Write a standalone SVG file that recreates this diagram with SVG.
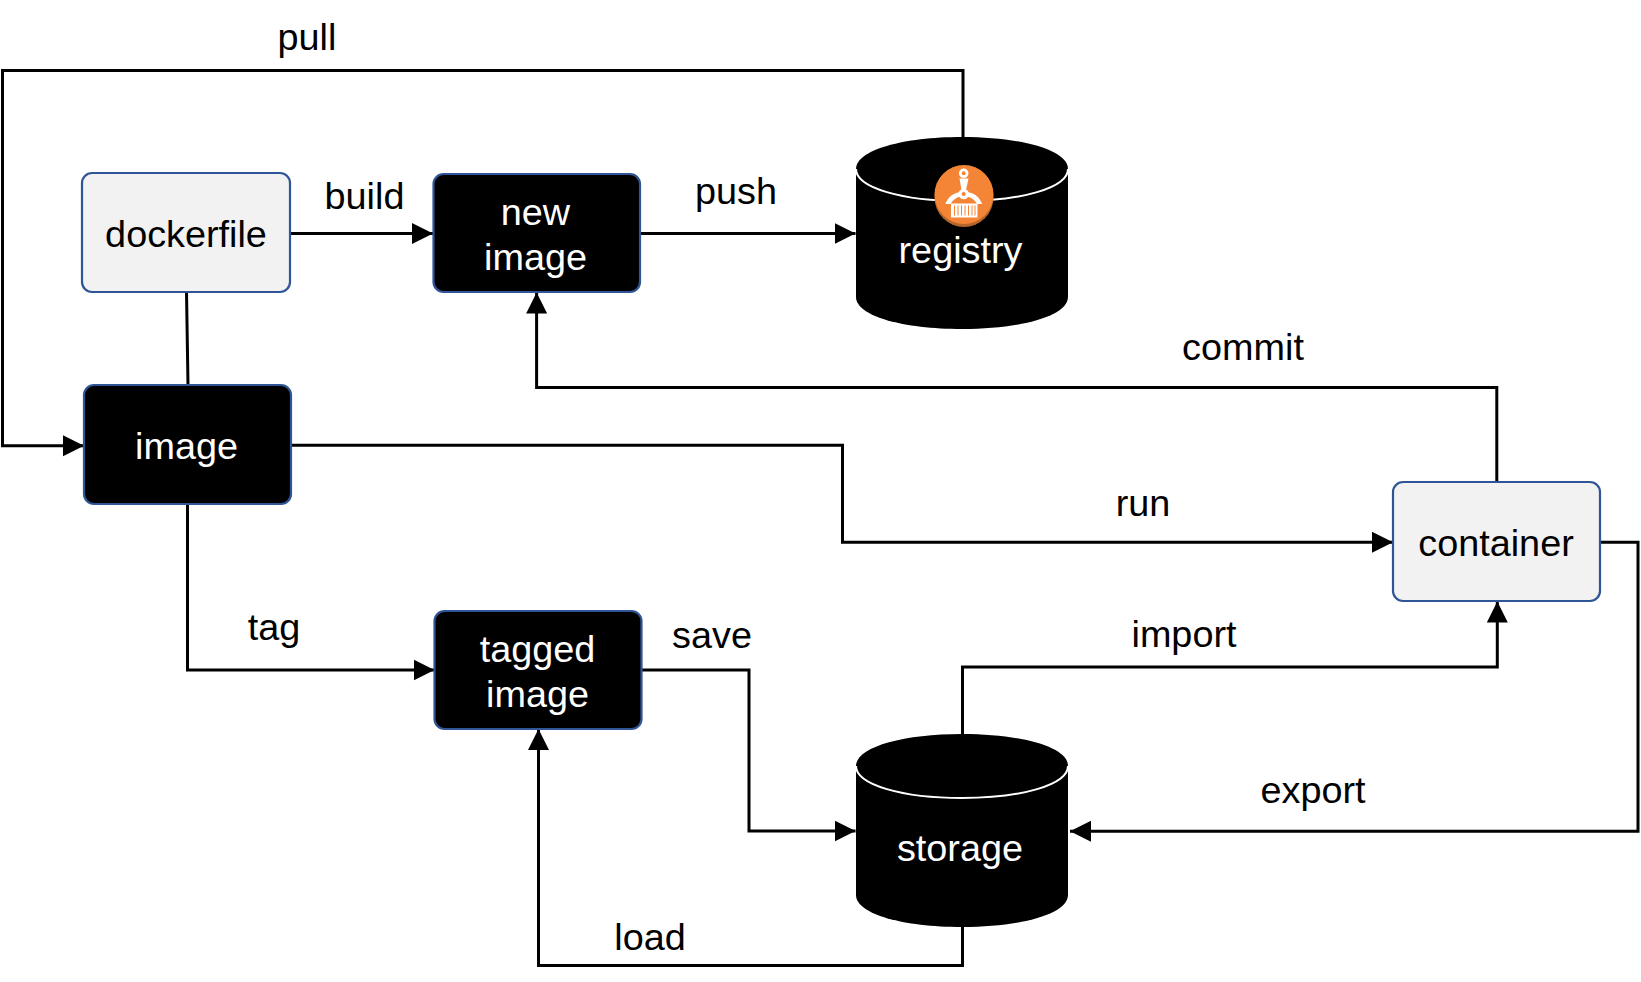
<svg xmlns="http://www.w3.org/2000/svg" width="1641" height="982" viewBox="0 0 1641 982">
<defs>
<style>
text{font-family:"Liberation Sans",Arial,sans-serif;font-size:37.8px;text-anchor:middle}
.lbl{fill:#000}
.w{fill:#fff}
.b{fill:#000}
.box{stroke:#2f5597;stroke-width:2.2}
.light{fill:#f2f2f2}
.dark{fill:#000}
.c{fill:none;stroke:#000;stroke-width:3}
.a{marker-end:url(#arr)}
.cyl{fill:#000}
.rim{fill:none;stroke:#fff;stroke-width:2}
</style>
<marker id="arr" markerUnits="userSpaceOnUse" markerWidth="24" markerHeight="24" refX="21" refY="11" orient="auto">
<path d="M0 0.500L21 11L0 21.500Z" fill="#000"/>
</marker>
</defs>
<rect width="1641" height="982" fill="#fff"/>
<g id="connectors">
<path class="c a" d="M963 137V70.500H2.500V445.700H84"/>
<path class="c a" d="M290 233.500H433"/>
<path class="c a" d="M641 233.500H855.500"/>
<path class="c" d="M186.500 292L188 385"/>
<path class="c a" d="M291 445.300H842.500V542.300H1393"/>
<path class="c a" d="M1496.800 482V387.500H536.600V292.500"/>
<path class="c a" d="M187.500 504V670H434.500"/>
<path class="c a" d="M642 670H749V831H855.500"/>
<path class="c a" d="M1601 542.300H1638V831.300H1070"/>
<path class="c a" d="M962.500 734V667H1497.300V601.500"/>
<path class="c a" d="M962.500 927V965.500H538.500V729"/>
</g>
<g id="dockerfile"><rect class="box light" x="82" y="173" width="208" height="119" rx="10"/><text class="b" x="186" y="247">dockerfile</text></g>
<g id="new-image"><rect class="box dark" x="433.500" y="174" width="206.500" height="118" rx="10"/><text class="w" x="535.500" y="225">new</text><text class="w" x="535.500" y="270">image</text></g>
<g id="image"><rect class="box dark" x="84" y="385" width="207" height="119" rx="10"/><text class="w" x="186.500" y="459">image</text></g>
<g id="tagged-image"><rect class="box dark" x="434.500" y="611" width="207" height="118" rx="10"/><text class="w" x="537.500" y="662">tagged</text><text class="w" x="537.500" y="707">image</text></g>
<g id="container"><rect class="box light" x="1393" y="482" width="207" height="119" rx="10"/><text class="b" x="1496" y="555.500">container</text></g>
<g id="registry">
<path class="cyl" d="M856 169C856 150 903 137 962 137S1068 150 1068 169V297C1068 316 1021 329 962 329S856 316 856 297Z"/>
<path class="rim" d="M856 169C856 188 903 201 962 201S1068 188 1068 169"/>
<circle cx="964" cy="197.500" r="29.500" fill="#b5662a"/>
<circle cx="964" cy="194.500" r="29.500" fill="#f58536"/>
<g fill="#fff">
<circle cx="963.700" cy="173.300" r="3.400" fill="none" stroke="#fff" stroke-width="2.800"/>
<path d="M959.500 178.500H968.500L966 190H961.500Z"/>
<circle cx="963.700" cy="194" r="3.600" fill="none" stroke="#fff" stroke-width="3.200"/>
<path d="M945.300 204C948 197.500 952 193.500 959.500 192.200L960.500 196.500C956 197.500 952.500 200 950.700 204Z"/>
<path d="M982.300 204C979.500 197.500 975.500 193.500 968 192.200L967 196.500C971.500 197.500 975 200 977 204Z"/>
<path d="M951 203.500H977.500V217.500H951Z"/>
</g>
<path d="M954.500 205.500V215.500M958 205.500V215.500M961.500 205.500V215.500M965 205.500V215.500M968.500 205.500V215.500M972 205.500V215.500M975 205.500V215.500" stroke="#f58536" stroke-width="1" fill="none"/>
<text class="w" x="960.500" y="263">registry</text>
</g>
<g id="storage">
<path class="cyl" d="M856 766C856 747 903 734 962 734S1068 747 1068 766V895C1068 914 1021 927 962 927S856 914 856 895Z"/>
<path class="rim" d="M856 766C856 785 903 798 962 798S1068 785 1068 766"/>
<text class="w" x="960" y="861">storage</text>
</g>
<g id="labels">
<text class="lbl" x="307" y="50">pull</text>
<text class="lbl" x="364.500" y="209">build</text>
<text class="lbl" x="736" y="204">push</text>
<text class="lbl" x="1243" y="360">commit</text>
<text class="lbl" x="1143" y="516">run</text>
<text class="lbl" x="274" y="640">tag</text>
<text class="lbl" x="712" y="648">save</text>
<text class="lbl" x="1184" y="647">import</text>
<text class="lbl" x="1313" y="803">export</text>
<text class="lbl" x="650" y="950">load</text>
</g>
</svg>
